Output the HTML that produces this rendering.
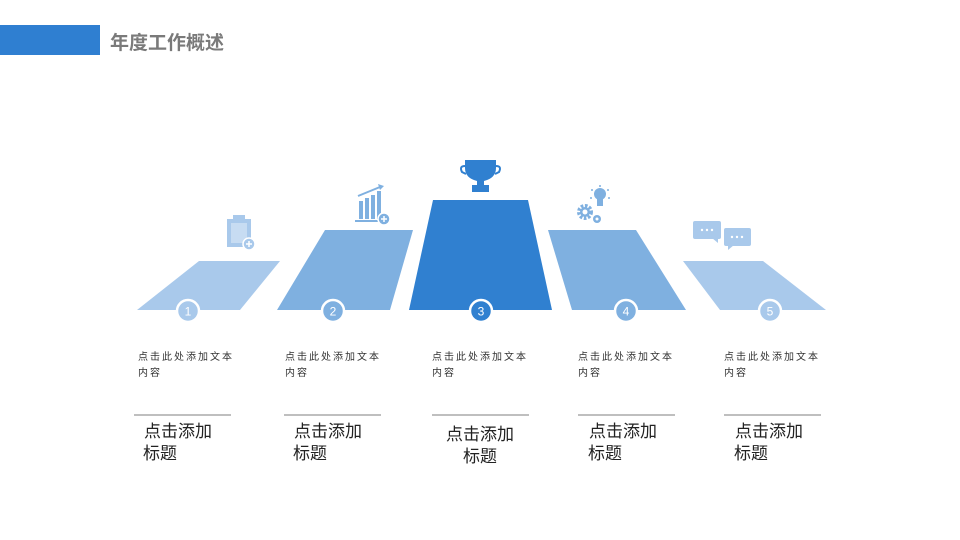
<!DOCTYPE html>
<html><head><meta charset="utf-8"><style>
html,body{margin:0;padding:0;background:#fff;}
svg{display:block;}
text{font-family:"Liberation Sans","Noto Sans CJK SC",sans-serif;}
</style></head><body>
<svg width="960" height="540" viewBox="0 0 960 540" xmlns="http://www.w3.org/2000/svg">
<rect x="0" y="25" width="100" height="30" fill="#2f7fd1"/>
<text x="110" y="49" font-size="19" font-weight="bold" fill="#7a7a7a">年度工作概述</text>

<polygon points="199,261 280,261 240,310 137,310" fill="#a9c9eb"/>
<polygon points="325,230 413,230 390,310 277,310" fill="#7fb0e0"/>
<polygon points="433,200 528,200 552,310 409,310" fill="#3080d0"/>
<polygon points="548,230 636,230 686,310 572,310" fill="#7fb0e0"/>
<polygon points="683,261 763,261 826,310 720,310" fill="#a9c9eb"/>

<g font-size="12" fill="#fff" text-anchor="middle">
<circle cx="188" cy="311" r="11" fill="#a9c9eb" stroke="#fff" stroke-width="2.5"/><text x="188" y="315.5">1</text>
<circle cx="333" cy="311" r="11" fill="#7fb0e0" stroke="#fff" stroke-width="2.5"/><text x="333" y="315.5">2</text>
<circle cx="481" cy="311" r="11" fill="#3080d0" stroke="#fff" stroke-width="2.5"/><text x="481" y="315.5">3</text>
<circle cx="626" cy="311" r="11" fill="#7fb0e0" stroke="#fff" stroke-width="2.5"/><text x="626" y="315.5">4</text>
<circle cx="770" cy="311" r="11" fill="#a9c9eb" stroke="#fff" stroke-width="2.5"/><text x="770" y="315.5">5</text>
</g>

<!-- icon 1 clipboard -->
<g fill="#a9c9eb">
<rect x="227" y="219" width="24" height="28"/>
<rect x="233" y="215" width="12" height="6"/>
<rect x="231" y="223" width="16" height="20" fill="#fff" opacity="0.35"/>
<circle cx="249" cy="244" r="6" fill="#a9c9eb" stroke="#fff" stroke-width="1.5"/>
<path d="M246 244h6M249 241v6" stroke="#fff" stroke-width="1.5"/>
</g>
<!-- icon 2 chart -->
<g fill="#7fb0e0">
<rect x="359" y="201" width="4" height="18"/>
<rect x="365" y="198" width="4" height="21"/>
<rect x="371" y="195" width="4" height="24"/>
<rect x="377" y="191" width="4" height="28"/>
<rect x="355" y="220" width="28" height="2"/>
<path d="M358 196 L380 187" stroke="#7fb0e0" stroke-width="2"/>
<polygon points="378,184 384,186 380,190"/>
<circle cx="384" cy="219" r="6" stroke="#fff" stroke-width="1.5"/>
<path d="M381 219h6M384 216v6" stroke="#fff" stroke-width="1.5"/>
</g>
<!-- trophy -->
<g fill="#3080d0">
<path d="M465 160 H496 V168 Q496 178 484 181 V185 H489 V192 H472 V185 H477 V181 Q465 178 465 168 Z"/>
<path d="M465 166 Q459 166 462 172 L466 174" fill="none" stroke="#3080d0" stroke-width="2"/>
<path d="M496 166 Q502 166 499 172 L495 174" fill="none" stroke="#3080d0" stroke-width="2"/>
</g>
<!-- gears + bulb -->
<g fill="#7fb0e0">
<circle cx="600" cy="194" r="6"/>
<rect x="597" y="199" width="6" height="7"/>
<circle cx="600" cy="186" r="1"/><circle cx="592" cy="190" r="1"/><circle cx="608" cy="190" r="1"/><circle cx="591" cy="198" r="1"/><circle cx="609" cy="198" r="1"/>
<circle cx="585" cy="212" r="6" fill="none" stroke="#7fb0e0" stroke-width="4" stroke-dasharray="2.5 1.5"/>
<circle cx="585" cy="212" r="5"/><circle cx="585" cy="212" r="2.5" fill="#fff"/>
<circle cx="597" cy="219" r="4"/><circle cx="597" cy="219" r="1.5" fill="#fff"/>
</g>
<!-- chat -->
<g fill="#a9c9eb">
<rect x="693" y="221" width="28" height="18" rx="2"/>
<polygon points="712,238 718,238 718,243"/>
<rect x="724" y="228" width="27" height="18" rx="2"/>
<polygon points="728,245 734,245 728,250"/>
<g fill="#fff"><circle cx="702" cy="230" r="1.2"/><circle cx="707" cy="230" r="1.2"/><circle cx="712" cy="230" r="1.2"/>
<circle cx="732" cy="237" r="1.2"/><circle cx="737" cy="237" r="1.2"/><circle cx="742" cy="237" r="1.2"/></g>
</g>

<g font-size="10" fill="#333" letter-spacing="2">
<text x="138" y="360">点击此处添加文本</text><text x="138" y="376">内容</text>
<text x="285" y="360">点击此处添加文本</text><text x="285" y="376">内容</text>
<text x="432" y="360">点击此处添加文本</text><text x="432" y="376">内容</text>
<text x="578" y="360">点击此处添加文本</text><text x="578" y="376">内容</text>
<text x="724" y="360">点击此处添加文本</text><text x="724" y="376">内容</text>
</g>
<g stroke="#bfbfbf" stroke-width="2">
<path d="M134 415H231M284 415H381M432 415H529M578 415H675M724 415H821"/>
</g>
<g font-size="17" fill="#222">
<text x="144" y="437">点击添加</text><text x="143" y="459">标题</text>
<text x="294" y="437">点击添加</text><text x="293" y="459">标题</text>
<text x="446" y="440">点击添加</text><text x="463" y="462">标题</text>
<text x="589" y="437">点击添加</text><text x="588" y="459">标题</text>
<text x="735" y="437">点击添加</text><text x="734" y="459">标题</text>
</g>
</svg>
</body></html>
